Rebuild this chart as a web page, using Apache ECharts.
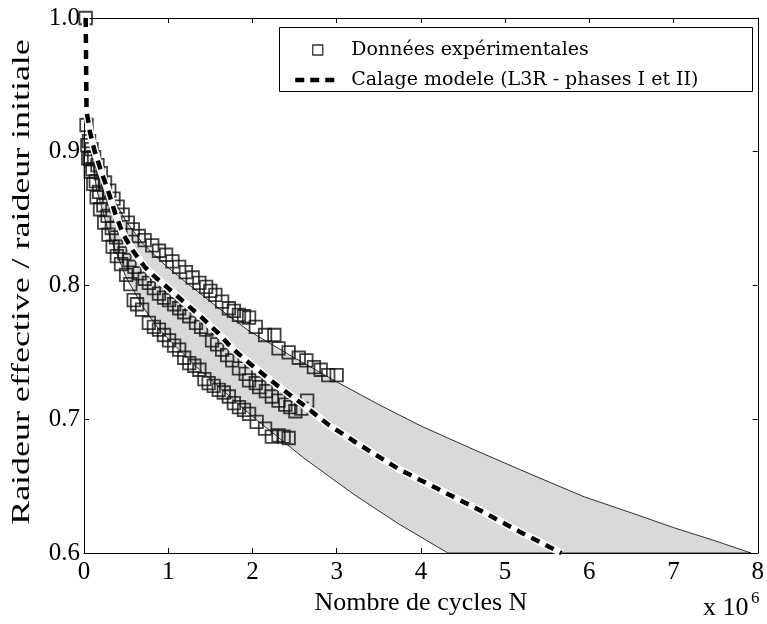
<!DOCTYPE html>
<html><head><meta charset="utf-8">
<script src="https://cdn.jsdelivr.net/npm/echarts@6/dist/echarts.min.js"></script>
<style>html,body{margin:0;padding:0;background:#fff}#c{width:767px;height:624px}</style>
</head><body><div id="c"></div>
<script>
// x in millions of cycles, y = effective stiffness / initial stiffness
const xTicks = [0, 1, 2, 3, 4, 5, 6, 7, 8];
const yTicks = [0.6, 0.7, 0.8, 0.9, 1.0];
const xUnitLabel = 'x 10';
const xUnitExp = '6';
const xName = 'Nombre de cycles N';
const yName = 'Raideur effective / raideur initiale';
const expName = 'Données expérimentales';
const fitName = 'Calage modele (L3R - phases I et II)';

const specimenA = [[0.02,1.000],[0.03,0.920],[0.06,0.908],[0.09,0.902],[0.12,0.896],[0.16,0.890],[0.20,0.884],[0.25,0.877],[0.30,0.871],[0.35,0.865],[0.40,0.859],[0.46,0.853],[0.52,0.847],[0.58,0.842],[0.65,0.837],[0.72,0.834],[0.81,0.830],[0.89,0.826],[0.975,0.823],[1.05,0.818],[1.13,0.814],[1.21,0.810],[1.29,0.806],[1.37,0.802],[1.45,0.799],[1.50,0.796],[1.56,0.793],[1.64,0.788],[1.72,0.783],[1.78,0.781],[1.84,0.778],[1.90,0.777],[1.96,0.776],[2.04,0.769],[2.15,0.763],[2.26,0.763],[2.31,0.753],[2.43,0.750],[2.55,0.746],[2.64,0.744],[2.73,0.739],[2.81,0.737],[2.90,0.733],[3.00,0.733]];
const specimenB = [[0.04,0.905],[0.07,0.895],[0.10,0.887],[0.14,0.878],[0.18,0.870],[0.23,0.860],[0.28,0.852],[0.33,0.843],[0.38,0.836],[0.43,0.829],[0.48,0.824],[0.54,0.819],[0.60,0.814],[0.66,0.809],[0.72,0.805],[0.77,0.802],[0.83,0.798],[0.89,0.794],[0.95,0.791],[1.01,0.789],[1.07,0.786],[1.13,0.783],[1.19,0.780],[1.25,0.777],[1.33,0.772],[1.39,0.769],[1.45,0.767],[1.52,0.759],[1.58,0.756],[1.64,0.752],[1.70,0.748],[1.76,0.744],[1.84,0.738],[1.92,0.734],[1.96,0.729],[2.04,0.727],[2.08,0.724],[2.16,0.721],[2.23,0.717],[2.31,0.714],[2.39,0.711],[2.45,0.709],[2.51,0.706],[2.58,0.708],[2.65,0.714]];
const specimenC = [[0.05,0.895],[0.08,0.885],[0.11,0.876],[0.15,0.866],[0.19,0.857],[0.24,0.847],[0.29,0.838],[0.34,0.829],[0.39,0.822],[0.44,0.816],[0.50,0.808],[0.55,0.801],[0.59,0.789],[0.63,0.786],[0.69,0.782],[0.77,0.772],[0.83,0.769],[0.89,0.767],[0.95,0.763],[1.01,0.759],[1.07,0.755],[1.13,0.752],[1.19,0.746],[1.25,0.742],[1.31,0.740],[1.37,0.737],[1.43,0.730],[1.48,0.727],[1.54,0.725],[1.60,0.722],[1.66,0.720],[1.72,0.717],[1.78,0.712],[1.84,0.709],[1.90,0.707],[1.96,0.704],[2.05,0.698],[2.15,0.693],[2.23,0.687],[2.31,0.688],[2.37,0.687],[2.43,0.686]];
const modelFit = [[0.02,1.000],[0.025,0.965],[0.03,0.930],[0.045,0.925],[0.07,0.915],[0.12,0.902],[0.20,0.886],[0.28,0.872],[0.37,0.854],[0.46,0.839],[0.58,0.826],[0.72,0.814],[0.85,0.806],[1.00,0.798],[1.20,0.787],[1.40,0.776],[1.60,0.764],[1.76,0.753],[2.00,0.740],[2.30,0.725],[2.60,0.711],[2.90,0.696],[3.22,0.683],[3.50,0.672],[3.73,0.663],[4.20,0.648],[4.70,0.632],[5.20,0.615],[5.67,0.600]];
const bandUpper = [[0.05,0.915],[0.15,0.893],[0.30,0.870],[0.50,0.848],[0.69,0.832],[0.95,0.816],[1.20,0.803],[1.60,0.783],[1.96,0.766],[2.47,0.747],[3.00,0.728],[3.50,0.711],[4.00,0.695],[4.64,0.677],[5.30,0.659],[5.94,0.642],[6.50,0.630],[7.00,0.619],[7.50,0.609],[7.92,0.600]];
const bandLower = [[0.05,0.915],[0.15,0.872],[0.30,0.838],[0.50,0.806],[0.70,0.784],[0.89,0.767],[1.37,0.737],[2.00,0.702],[2.61,0.671],[3.20,0.644],[3.73,0.622],[4.32,0.600]];

const serif = 'Liberation Serif';
const chart = echarts.init(document.getElementById('c'), null, {renderer: 'canvas'});

const scatterStyle = {color: 'rgba(0,0,0,0)', borderColor: '#111', borderWidth: 1.8};
function expSeries(data) {
  return {type: 'scatter', name: expName, data: data, symbol: 'rect', symbolSize: 12.5,
    itemStyle: scatterStyle, z: 3, silent: true, emphasis: {disabled: true}};
}
const axisCommon = {
  type: 'value', splitLine: {show: false},
  axisLine: {show: true, onZero: false, lineStyle: {color: '#000', width: 1}},
  axisTick: {show: true, inside: true, length: 5, lineStyle: {color: '#000', width: 1}}
};

chart.setOption({
  animation: false,
  backgroundColor: '#fff',
  grid: {left: 84, right: 6, top: 18, bottom: 71, containLabel: false},
  xAxis: [
    Object.assign({}, axisCommon, {position: 'bottom', min: xTicks[0], max: xTicks[xTicks.length - 1], interval: xTicks[1] - xTicks[0],
      axisLabel: {show: true, margin: 7, color: '#000', fontFamily: serif, fontSize: 25, showMinLabel: true, showMaxLabel: true, formatter: v => String(Math.round(v))},
      name: xName, nameLocation: 'middle', nameGap: 27, nameTextStyle: {color: '#000', fontFamily: serif, fontSize: 26}}),
    Object.assign({}, axisCommon, {position: 'top', min: xTicks[0], max: xTicks[xTicks.length - 1], interval: xTicks[1] - xTicks[0], axisLabel: {show: false}})
  ],
  yAxis: [
    Object.assign({}, axisCommon, {position: 'left', min: yTicks[0], max: yTicks[yTicks.length - 1], interval: 0.1,
      axisLabel: {show: true, margin: 4, color: '#000', fontFamily: serif, fontSize: 25, showMinLabel: true, showMaxLabel: true, formatter: v => v.toFixed(1)}}),
    Object.assign({}, axisCommon, {position: 'right', min: yTicks[0], max: yTicks[yTicks.length - 1], interval: 0.1, axisLabel: {show: false}})
  ],
  legend: {
    data: [
      {name: expName, icon: 'path://M0,0H10V10H0Z', itemStyle: {color: 'rgba(0,0,0,0)', borderColor: '#000', borderWidth: 1.3}},
      {name: fitName, itemStyle: {color: 'rgba(0,0,0,0)', borderColor: 'rgba(0,0,0,0)', borderWidth: 0},
        lineStyle: {color: '#000', width: 4.5, type: [9, 6]}}
    ],
    orient: 'vertical', left: 293, top: 40, padding: 0, itemWidth: 45, itemHeight: 10, itemGap: 10,
    selectedMode: false, z: 6,
    textStyle: {fontFamily: 'DejaVu Serif', fontSize: 19, lineHeight: 20, color: '#000', padding: [0, 0, 0, 6]}
  },
  graphic: [
    {type: 'rect', z: 5, shape: {x: 279.5, y: 27.5, width: 473, height: 64}, style: {fill: '#fff', stroke: '#000', lineWidth: 1}},
    {type: 'text', z: 5, x: 22, y: 282, rotation: Math.PI / 2, scaleX: 1.38, scaleY: 1,
      style: {text: yName, x: 0, y: 0, align: 'center', verticalAlign: 'middle', fill: '#000', font: '26px "Liberation Serif"'}},
    {type: 'text', z: 5, x: 703, y: 621, style: {text: xUnitLabel, x: 0, y: 0, align: 'left', verticalAlign: 'bottom', fill: '#000', font: '26px "Liberation Serif"'}},
    {type: 'text', z: 5, x: 751, y: 607, style: {text: xUnitExp, x: 0, y: 0, align: 'left', verticalAlign: 'bottom', fill: '#000', font: '17px "Liberation Serif"'}}
  ],
  series: [
    {type: 'custom', name: 'band', silent: true, z: 1, data: [[0, 0.6]], clip: true,
      renderItem: function (params, api) {
        const pts = bandUpper.map(p => api.coord(p)).concat(bandLower.slice().reverse().map(p => api.coord(p)));
        return {type: 'polygon', shape: {points: pts}, style: {fill: '#d9d9d9', stroke: '#000', lineWidth: 0.8}};
      }},
    expSeries(specimenA),
    expSeries(specimenB),
    expSeries(specimenC),
    {type: 'line', name: 'fit-underlay', data: modelFit, symbol: 'none', showSymbol: false, silent: true, z: 4,
      lineStyle: {color: '#fff', width: 7.5}, emphasis: {disabled: true}},
    {type: 'line', name: fitName, data: modelFit, symbol: 'none', showSymbol: false, silent: true, z: 5,
      lineStyle: {color: '#000', width: 4.5, type: [9, 7], cap: 'butt'}, emphasis: {disabled: true}}
  ]
});
</script></body></html>
